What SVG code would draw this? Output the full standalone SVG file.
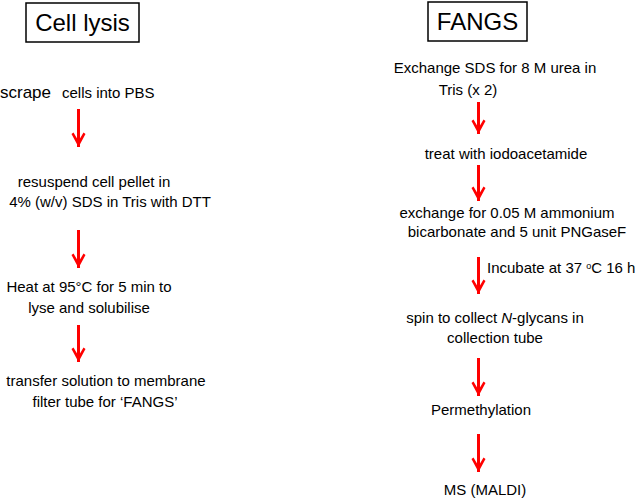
<svg xmlns="http://www.w3.org/2000/svg" width="635" height="498" viewBox="0 0 635 498">
<defs>
<style>
text{font-family:"Liberation Sans",Arial,sans-serif;fill:#000;font-size:15px}
.c{text-anchor:middle}
.t{font-size:24px}
.box{fill:#fff;stroke:#000;stroke-width:1.5}
.arr{stroke:#f00;stroke-width:3;fill:none}
</style>
<marker id="h" markerUnits="userSpaceOnUse" markerWidth="16" markerHeight="16" viewBox="-8 -15 16 16" refX="0" refY="0" orient="0">
<path d="M-7,-13 L-5,-14.5 L0,-6 L5,-14.5 L7,-13 L0,0 Z" fill="#f00"/>
</marker>
</defs>
<rect width="635" height="498" fill="#fff"/>
<g id="title-cell-lysis">
<rect class="box" x="26" y="3" width="113" height="39"/>
<text class="t c" x="82.5" y="31">Cell lysis</text>
</g>
<g id="title-fangs">
<rect class="box" x="428" y="2" width="99" height="39"/>
<text class="t c" x="477.5" y="30">FANGS</text>
</g>
<g id="n-scrape">
<text x="0" y="98" style="font-size:17px">scrape</text>
<text x="62" y="98">cells into PBS</text>
</g>
<g id="n-resuspend">
<text class="c" x="94" y="187">resuspend cell pellet in</text>
<text class="c" x="110" y="207">4% (w/v) SDS in Tris with DTT</text>
</g>
<g id="n-heat">
<text class="c" x="89" y="292">Heat at 95°C for 5 min to</text>
<text class="c" x="89" y="313">lyse and solubilise</text>
</g>
<g id="n-transfer">
<text class="c" x="106" y="386">transfer solution to membrane</text>
<text class="c" x="105" y="407">filter tube for ‘FANGS’</text>
</g>
<g id="n-exchange-urea">
<text class="c" x="495" y="73">Exchange SDS for 8 M urea in</text>
<text class="c" x="468" y="95">Tris (x 2)</text>
</g>
<g id="n-iodo">
<text class="c" x="506" y="159">treat with iodoacetamide</text>
</g>
<g id="n-exchange-bicarb">
<text class="c" x="507" y="218">exchange for 0.05 M ammonium</text>
<text class="c" x="517" y="237">bicarbonate and 5 unit PNGaseF</text>
</g>
<g id="n-spin">
<text class="c" x="495" y="323">spin to collect <tspan font-style="italic">N</tspan>-glycans in</text>
<text class="c" x="495" y="343">collection tube</text>
</g>
<g id="n-perm">
<text class="c" x="481" y="415">Permethylation</text>
</g>
<g id="n-ms">
<text class="c" x="485" y="495">MS (MALDI)</text>
</g>
<g id="connectors">
<line class="arr" x1="78.5" y1="109" x2="78.5" y2="147" marker-end="url(#h)"/>
<line class="arr" x1="78.5" y1="230" x2="78.5" y2="268" marker-end="url(#h)"/>
<line class="arr" x1="78.5" y1="325" x2="78.5" y2="362" marker-end="url(#h)"/>
<line class="arr" x1="478.5" y1="102" x2="478.5" y2="134" marker-end="url(#h)"/>
<line class="arr" x1="478.5" y1="165" x2="478.5" y2="201" marker-end="url(#h)"/>
<line class="arr" x1="478.5" y1="257" x2="478.5" y2="294" marker-end="url(#h)"/>
<line class="arr" x1="478.5" y1="358" x2="478.5" y2="396" marker-end="url(#h)"/>
<line class="arr" x1="478.5" y1="434" x2="478.5" y2="472" marker-end="url(#h)"/>
<text x="487" y="273">Incubate at 37 <tspan font-size="9" dy="-4">o</tspan><tspan dy="4">C 16 h</tspan></text>
</g>
</svg>
